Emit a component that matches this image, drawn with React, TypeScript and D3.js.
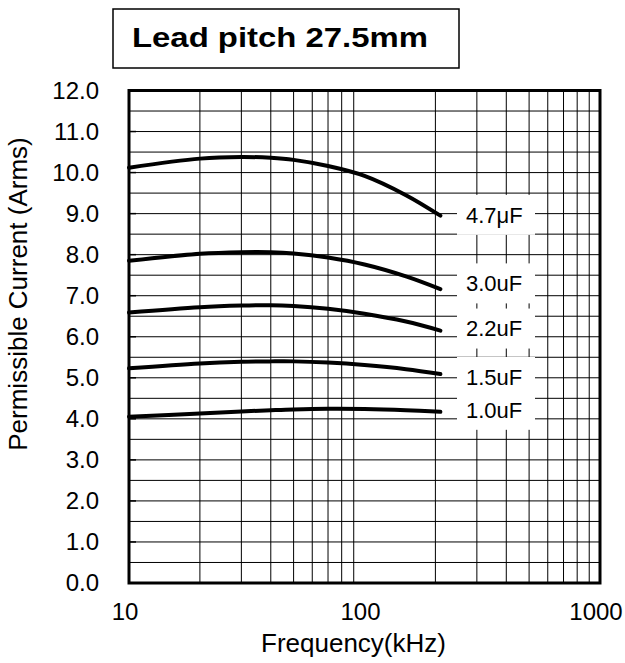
import React from "react";
import * as d3 from "d3";

const freqs = [10, 20, 30, 40, 50, 70, 100, 150, 210];
const cap47 = [10.12, 10.34, 10.38, 10.36, 10.31, 10.16, 9.92, 9.45, 8.95];
const cap30 = [7.85, 8.02, 8.06, 8.06, 8.03, 7.93, 7.76, 7.47, 7.16];
const cap22 = [6.59, 6.72, 6.76, 6.77, 6.75, 6.68, 6.56, 6.37, 6.15];
const cap15 = [5.23, 5.35, 5.39, 5.4, 5.4, 5.37, 5.31, 5.21, 5.09];
const cap10 = [4.05, 4.13, 4.18, 4.21, 4.23, 4.245, 4.24, 4.21, 4.17];

const seriesNames = ["4.7μF", "3.0uF", "2.2uF", "1.5uF", "1.0uF"];
const seriesValues = [cap47, cap30, cap22, cap15, cap10];
const labelValues = [8.97, 7.3, 6.2, 5.02, 4.22];

const yTicks = [0, 1, 2, 3, 4, 5, 6, 7, 8, 9, 10, 11, 12];
const xTicks = [10, 100, 1000];
const titleText = "Lead pitch 27.5mm";
const xTitle = "Frequency(kHz)";
const yTitle = "Permissible Current (Arms)";

const FONT = "'Liberation Sans', Arial, sans-serif";

export default function App() {
  const left = 129, right = 600, top = 90.5, bottom = 583;
  const x = d3.scaleLog().domain([10, 1000]).range([left, right]);
  const y = d3.scaleLinear().domain([0, 12]).range([bottom, top]);

  const vGrid: number[] = [];
  [10, 100].forEach((d) => {
    for (let k = 2; k <= 9; k++) vGrid.push(d * k);
  });
  const hGrid = d3.range(0.5, 12, 0.5);

  const line = d3
    .line<[number, number]>()
    .x((d) => x(d[0]))
    .y((d) => y(d[1]))
    .curve(d3.curveCatmullRom.alpha(0.5));

  const labelX = 466;
  const boxW = 78;
  const boxH = 40;

  return (
    <svg
      width={625}
      height={663}
      style={{ position: "absolute", left: 0, top: 0, background: "#fff" }}
    >
      <rect x={0} y={0} width={625} height={663} fill="#fff" />
      {/* title */}
      <rect x={113} y={9} width={346} height={59} fill="#fff" stroke="#000" strokeWidth={1.5} />
      <text
        x={132}
        y={47}
        fontFamily={FONT}
        fontWeight="bold"
        fontSize={28}
        textLength={296}
        lengthAdjust="spacingAndGlyphs"
      >
        {titleText}
      </text>

      {/* grid */}
      {vGrid.map((v) => (
        <line key={"v" + v} x1={x(v)} x2={x(v)} y1={top} y2={bottom} stroke="#000" strokeWidth={1} />
      ))}
      {hGrid.map((v) => (
        <line key={"h" + v} x1={left} x2={right} y1={y(v)} y2={y(v)} stroke="#000" strokeWidth={1} />
      ))}
      {yTicks.map((v) => (
        <line key={"t" + v} x1={left} x2={left + 7} y1={y(v)} y2={y(v)} stroke="#000" strokeWidth={1.5} />
      ))}

      {/* curves */}
      {seriesValues.map((vals, i) => (
        <path
          key={"s" + i}
          d={line(freqs.map((f, j) => [f, vals[j]] as [number, number])) || ""}
          fill="none"
          stroke="#000"
          strokeWidth={4}
          strokeLinecap="round"
        />
      ))}

      {/* label boxes */}
      {labelValues.map((v, i) => (
        <rect
          key={"b" + i}
          x={457}
          y={y(v) - boxH / 2}
          width={boxW}
          height={boxH}
          fill="#fff"
        />
      ))}
      {labelValues.map((v, i) => (
        <text
          key={"l" + i}
          x={labelX}
          y={y(v)}
          dy="0.35em"
          fontFamily={FONT}
          fontSize={22}
        >
          {seriesNames[i]}
        </text>
      ))}

      {/* border */}
      <rect x={left} y={top} width={right - left} height={bottom - top} fill="none" stroke="#000" strokeWidth={3} />

      {/* y tick labels */}
      {yTicks.map((v) => (
        <text
          key={"yl" + v}
          x={99}
          y={y(v)}
          dy="0.35em"
          textAnchor="end"
          fontFamily={FONT}
          fontSize={24}
        >
          {v.toFixed(1)}
        </text>
      ))}
      {/* x tick labels */}
      {xTicks.map((v) => (
        <text
          key={"xl" + v}
          x={x(v) - 4}
          y={620}
          textAnchor="middle"
          fontFamily={FONT}
          fontSize={24}
        >
          {String(v)}
        </text>
      ))}
      <text x={353.5} y={652} textAnchor="middle" fontFamily={FONT} fontSize={26}>
        {xTitle}
      </text>
      <text
        transform={`translate(27, ${294}) rotate(-90)`}
        textAnchor="middle"
        fontFamily={FONT}
        fontSize={26}
      >
        {yTitle}
      </text>
    </svg>
  );
}
